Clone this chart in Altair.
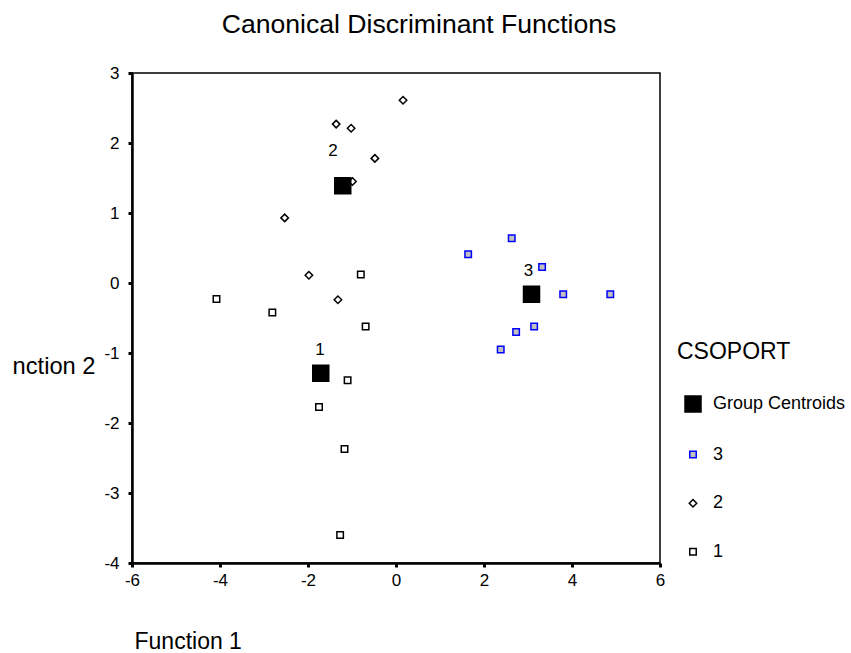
import altair as alt
import pandas as pd

# Group 1 (squares)
g1_x = [-4.08, -2.81, -0.80, -0.69, -1.10, -1.75, -1.17, -1.27]
g1_y = [-0.23, -0.42, 0.12, -0.62, -1.39, -1.77, -2.37, -3.60]
# Group 2 (diamonds)
g2_x = [0.16, -1.36, -1.02, -0.48, -0.99, -2.53, -1.98, -1.32]
g2_y = [2.61, 2.27, 2.21, 1.78, 1.45, 0.93, 0.11, -0.24]
# Group 3 (blue squares)
g3_x = [2.63, 1.64, 3.32, 3.80, 4.87, 3.14, 2.73, 2.38]
g3_y = [0.64, 0.41, 0.23, -0.16, -0.16, -0.62, -0.70, -0.95]
# Group centroids
cent_x = [-1.71, -1.21, 3.08]
cent_y = [-1.29, 1.39, -0.16]
cent_labels = ["1", "2", "3"]
label_x = [-1.73, -1.43, 3.01]
label_y = [-0.96, 1.88, 0.17]

groups = ["Group Centroids", "3", "2", "1"]
x_ticks = [-6, -4, -2, 0, 2, 4, 6]
y_ticks = [-4, -3, -2, -1, 0, 1, 2, 3]

rows = []
for x, y in zip(g1_x, g1_y):
    rows.append({"f1": x, "f2": y, "grp": "1"})
for x, y in zip(g2_x, g2_y):
    rows.append({"f1": x, "f2": y, "grp": "2"})
for x, y in zip(g3_x, g3_y):
    rows.append({"f1": x, "f2": y, "grp": "3"})
for x, y in zip(cent_x, cent_y):
    rows.append({"f1": x, "f2": y, "grp": "Group Centroids"})
df = pd.DataFrame(rows)

lab_df = pd.DataFrame({"f1": label_x, "f2": label_y, "lab": cent_labels})

FONT = "Liberation Sans"

xenc = alt.X("f1:Q", scale=alt.Scale(domain=[-6, 6], nice=False, zero=False),
             axis=alt.Axis(values=x_ticks, title="Function 1", titleAlign="left",
                           titleX=2, titleY=85, titleBaseline="alphabetic",
                           titleAnchor="start", labelPadding=5,
                           labelExpr="'' + datum.value"))
yenc = alt.Y("f2:Q", scale=alt.Scale(domain=[-4, 3], nice=False, zero=False),
             axis=alt.Axis(values=y_ticks, title="nction 2", titleAngle=0,
                           titleAlign="right", titleX=-37, titleY=300,
                           titleFontSize=23.7,
                           titleBaseline="alphabetic", labelPadding=9,
                           labelExpr="'' + datum.value"))

leg = alt.Legend(title="CSOPORT")
points = alt.Chart(df).mark_point(filled=True, opacity=1, strokeWidth=1.5).encode(
    x=xenc,
    y=yenc,
    shape=alt.Shape("grp:O", scale=alt.Scale(type="ordinal", domain=groups,
                                             range=["square", "square", "diamond", "square"]), legend=leg),
    fill=alt.Fill("grp:O", scale=alt.Scale(type="ordinal", domain=groups,
                                           range=["#000000", "#c0c0c0", "#ffffff", "#ffffff"]), legend=leg),
    stroke=alt.Stroke("grp:O", scale=alt.Scale(type="ordinal", domain=groups,
                                               range=["#000000", "#0000ff", "#000000", "#000000"]), legend=leg),
    size=alt.Size("grp:O", scale=alt.Scale(type="ordinal", domain=groups,
                                           range=[256, 42, 56, 42]), legend=leg),
)

labels = alt.Chart(lab_df).mark_text(fontSize=17, font=FONT, color="black", baseline="middle").encode(
    x="f1:Q", y="f2:Q", text="lab:N"
)

chart = alt.layer(points, labels).properties(
    width=528, height=490,
    autosize="none",
    padding={"left": 132, "top": 73, "right": 191, "bottom": 90},
    title=alt.TitleParams("Canonical Discriminant Functions", fontSize=26.6, fontWeight="normal",
                          font=FONT, color="black", anchor="middle", dx=23, offset=25),
).configure_view(
    stroke="black", strokeWidth=1.5
).configure_axis(
    grid=False, domainColor="black", domainWidth=2.5, tickColor="black", tickSize=4,
    tickWidth=3, labelFontSize=17, labelFont=FONT, labelColor="black", labelFlush=False,
    labelOverlap=False, titleFont=FONT, titleFontSize=23, titleFontWeight="normal",
    titleColor="black"
).configure_legend(
    orient="none", legendX=545, legendY=268, padding=0,
    titleFont=FONT, titleFontSize=23, titleFontWeight="normal", titleColor="black",
    titlePadding=31, labelFont=FONT, labelFontSize=18, labelColor="black",
    rowPadding=30.6, symbolStrokeWidth=1.5, labelOffset=11, symbolOffset=7
)

chart.save("out.html", embed_options={"renderer": "svg", "actions": False})
